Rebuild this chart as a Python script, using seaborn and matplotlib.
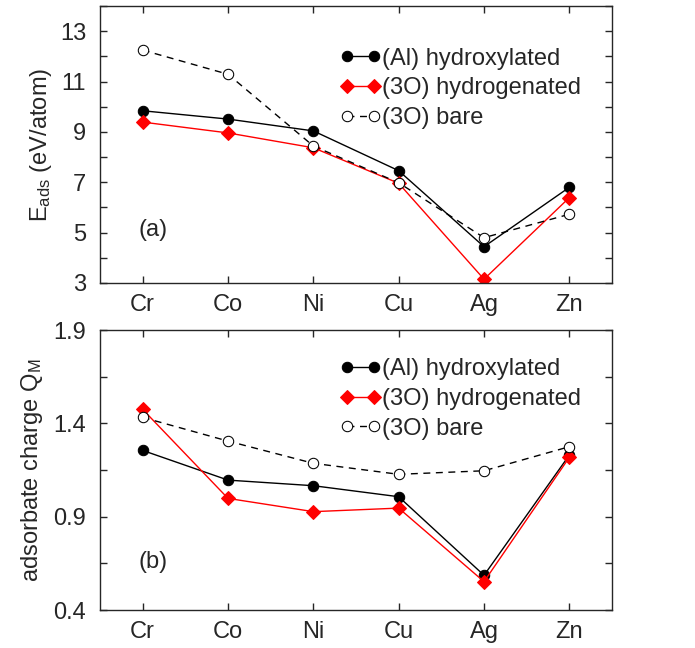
import numpy as np
import pandas as pd
import matplotlib
matplotlib.use('Agg')
import matplotlib.pyplot as plt
import seaborn as sns

metales = ['Cr', 'Co', 'Ni', 'Cu', 'Ag', 'Zn']

# (a) energia de adsorcion
e_hidroxilado = [9.84, 9.51, 9.04, 7.46, 4.44, 6.80]
e_hidrogenado = [9.39, 8.96, 8.37, 6.96, 3.15, 6.39]
e_desnudo = [12.25, 11.29, 8.44, 6.98, 4.80, 5.73]
e_ticks = [3, 5, 7, 9, 11, 13]

# (b) carga del adsorbato
q_hidroxilado = [1.255, 1.096, 1.066, 1.007, 0.586, 1.23]
q_hidrogenado = [1.475, 0.998, 0.927, 0.946, 0.552, 1.218]
q_desnudo = [1.432, 1.305, 1.186, 1.127, 1.146, 1.275]
q_ticks = [0.4, 0.9, 1.4, 1.9]

etiquetas = ['(Al) hydroxylated', '(3O) hydrogenated', '(3O) bare']

tam = 17

sns.set_style('ticks')
plt.rcParams['font.family'] = ['Liberation Sans', 'DejaVu Sans']
plt.rcParams['mathtext.fontset'] = 'custom'
plt.rcParams['mathtext.rm'] = 'Liberation Sans'
plt.rcParams['mathtext.it'] = 'Liberation Sans'
plt.rcParams['font.size'] = tam

fig = plt.figure(figsize=(6.95, 6.48), dpi=100)
ax1 = fig.add_axes([0.1439, 0.5633, 0.7367, 0.4274])
ax2 = fig.add_axes([0.1439, 0.0586, 0.7367, 0.4321])


def dibujar(ax, hidrox, hidrog, desn, tope):
    x = np.arange(len(metales))
    sns.lineplot(x=x, y=hidrox, ax=ax, color='black', lw=1, marker='o',
                 markersize=7.5, markeredgecolor='black', label=etiquetas[0])
    sns.lineplot(x=x, y=hidrog, ax=ax, color='red', lw=1, marker='D',
                 markersize=7.5, markeredgecolor='red', label=etiquetas[1])
    sns.lineplot(x=x, y=desn, ax=ax, color='black', lw=1, marker='o',
                 markersize=7.5, markerfacecolor='white', markeredgecolor='black',
                 linestyle=(0, (5, 4)), label=etiquetas[2])
    ax.set_xlim(-0.5, 5.5)
    ax.set_xticks(x)
    ax.set_xticklabels(metales)
    ax.tick_params(direction='in', top=True, right=True, length=5, width=1,
                   labelsize=tam)
    ax.tick_params(axis='x', pad=8)
    ax.tick_params(axis='y', pad=10)
    ax.tick_params(which='minor', direction='in', right=True, left=True,
                   length=5, width=1)
    for s in ax.spines.values():
        s.set_linewidth(1)
    ax.legend(loc='upper right', frameon=False, numpoints=2, handlelength=1.75,
              fontsize=tam, bbox_to_anchor=(0.94, tope), borderaxespad=0,
              borderpad=0, labelspacing=0.33, handletextpad=0.05)


dibujar(ax1, e_hidroxilado, e_hidrogenado, e_desnudo, 0.85)
ax1.set_ylim(3, 14)
ax1.set_yticks(e_ticks)
ax1.set_yticks([4, 6, 8, 10, 12, 14], minor=True)
ax1.set_ylabel('E$_{\\mathrm{ads}}$ (eV/atom)', fontsize=tam, labelpad=4)
ax1.text(0.075, 0.19, '(a)', transform=ax1.transAxes, fontsize=tam, va='center')

dibujar(ax2, q_hidroxilado, q_hidrogenado, q_desnudo, 0.9)
ax2.set_ylim(0.4, 1.9)
ax2.set_yticks(q_ticks)
ax2.set_yticks([0.65, 1.15, 1.65], minor=True)
ax2.set_yticklabels([f'{t:.1f}' for t in q_ticks])
ax2.set_ylabel('adsorbate charge Q$_{\\mathrm{M}}$', fontsize=tam, labelpad=6)
ax2.text(0.075, 0.17, '(b)', transform=ax2.transAxes, fontsize=tam, va='center')

fig.savefig('out.png', dpi=100)
